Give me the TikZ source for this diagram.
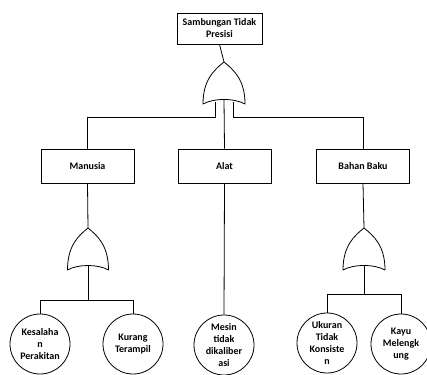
\documentclass[tikz,border=0pt]{standalone}
\usepackage{fontspec}
\setmainfont{Carlito}
\begin{document}
\begin{tikzpicture}[x=1pt,y=-1pt,line width=0.8pt,
  box/.style={draw,rectangle,minimum width=93pt,minimum height=34pt,inner sep=0pt,font=\fontsize{10}{12}\selectfont\bfseries,align=center},
  topbox/.style={draw,rectangle,minimum width=85pt,minimum height=31pt,inner sep=0pt,font=\fontsize{10}{12}\selectfont\bfseries,align=center},
  event/.style={draw,circle,minimum size=60pt,inner sep=0pt,font=\fontsize{10}{12.3}\selectfont\bfseries,align=center},
  orgate/.style={draw,line join=round}]
\useasboundingbox (0,0) rectangle (427,374);
% top event
\node[topbox] (top) at (219.5,28.5) {Sambungan Tidak\\Presisi};
% intermediate events
\node[box] (man) at (87.5,166) {Manusia};
\node[box] (alat) at (224.5,166) {Alat};
\node[box] (bahan) at (363,166) {Bahan Baku};
% basic events
\node[event] (kes) at (40,344) {Kesalaha\\n\\Perakitan};
\node[event] (kur) at (133,344) {Kurang\\Terampil};
\node[event] (mes) at (224,345) {Mesin\\tidak\\dikaliber\\asi};
\node[event] (uku) at (327,343) {Ukuran\\Tidak\\Konsiste\\n};
\node[event] (kay) at (401,344) {Kayu\\Melengk\\ung};
% gates
\newcommand{\orgateat}[5]{% name, cx, top, bottom, halfwidth
  \draw[orgate] (#2,#3) .. controls (#2-10,#3+8) and (#2-#5,#3+18) .. (#2-#5,#4)
    .. controls (#2-#5/2,#4-6) and (#2+#5/2,#4-6) .. (#2+#5,#4)
    .. controls (#2+#5,#3+18) and (#2+10,#3+8) .. (#2,#3) -- cycle;
  \coordinate (#1in) at (#2,#3);
  \coordinate (#1out) at (#2,#4-4.5);
}
\orgateat{g0}{224}{62}{104}{21}
\orgateat{g1}{88}{228}{270}{20.5}
\orgateat{g2}{364}{228}{270}{21}
% top gate branches
\coordinate (g0l) at (215,102.5);
\coordinate (g0r) at (233,102.5);
\coordinate (b0l) at (215,117);
\coordinate (b0r) at (233,117);
\draw (top.south) -- (g0in);
\draw (g0out) -- (alat.north);
\draw (g0l) -- (b0l) -| (man.north);
\draw (g0r) -- (b0r) -| (bahan.north);
% left gate
\draw (man.south) -- (g1in);
\coordinate (b1) at (88,300);
\draw (g1out) -- (b1);
\draw (b1) -| (kes.north);
\draw (b1) -| (kur.north);
% middle
\draw (alat.south) -- (mes.north);
% right gate
\draw (bahan.south) -- (g2in);
\coordinate (b2) at (364,294);
\draw (g2out) -- (b2);
\draw (b2) -| (uku.north);
\draw (b2) -| (kay.north);
\end{tikzpicture}
\end{document}
